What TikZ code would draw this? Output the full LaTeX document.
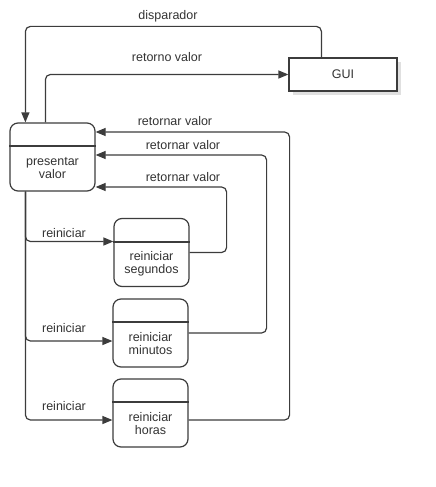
\documentclass[tikz,border=0pt]{standalone}
\usepackage{fontspec}
\setmainfont{Liberation Sans}
\usepackage{xcolor}
\usepackage{tikz}
\usetikzlibrary{arrows.meta}
\usetikzlibrary{calc,shadows}

\definecolor{linegray}{HTML}{3C3C3C}
\definecolor{textgray}{HTML}{333333}

\begin{document}
\begin{tikzpicture}[x=1pt, y=-1pt,
  font=\fontsize{12.5}{13}\selectfont,
  procbox/.style={draw=linegray, line width=1.2pt, rounded corners=8pt, fill=white, minimum width=75pt, minimum height=68pt},
  guibox/.style={draw=linegray, line width=1.2pt, fill=white, minimum width=108pt, minimum height=33pt,
    drop shadow={shadow xshift=4pt, shadow yshift=-4pt, fill=black!12, opacity=1}},
  divline/.style={draw=linegray, line width=1.2pt},
  flow/.style={draw=linegray, line width=1.2pt, rounded corners=5pt, -{Triangle[length=10pt,width=8pt]}},
  lbl/.style={text=textgray, inner sep=0pt}]

\useasboundingbox (0,0) rectangle (436,487);

\path
(343,74.5) node[guibox, text=textgray] (gui) {GUI}
(52.5,157) node[procbox, minimum width=85pt] (pres) {}
(151.5,252.5) node[procbox] (seg) {}
(150.5,333) node[procbox] (min) {}
(150.5,413) node[procbox] (hor) {};

% dividers and texts of the boxes
\draw[divline] (pres.west |- 0,146) -- (pres.east |- 0,146);
\draw[divline] (seg.west |- 0,242) -- (seg.east |- 0,242);
\draw[divline] (min.west |- 0,322) -- (min.east |- 0,322);
\draw[divline] (hor.west |- 0,402) -- (hor.east |- 0,402);

\path
(52.5,168) node[lbl, align=center] (presT) {presentar\\valor}
(151.5,264) node[lbl, align=center] (segT) {reiniciar\\segundos}
(150.5,344) node[lbl, align=center] (minT) {reiniciar\\minutos}
(150.5,424) node[lbl, align=center] (horT) {reiniciar\\horas};

\draw[flow] ([xshift=33pt]gui.north west) -- ++(0,-31) -| ([xshift=16pt]pres.north west);
\draw[flow] ([xshift=36pt]pres.north west) |- (gui.west);

\draw[flow] ([yshift=-7pt]hor.east) -- ++(101,0) |- ([yshift=25pt]pres.east);
\draw[flow] (min.east) -- ++(78,0) |- ([yshift=2pt]pres.east);
\draw[flow] (seg.east) -- ++(37,0) |- ([yshift=-30pt]pres.east);

\draw[flow] ([xshift=16pt]pres.south west) |- ([yshift=11pt]seg.west);
\draw[flow] ([xshift=16pt]pres.south west) |- ([yshift=-8pt]min.west);
\draw[flow] ([xshift=16pt]pres.south west) |- ([yshift=-7pt]hor.west);

\path
(168,16) node[lbl] (dispL) {disparador}
(167,57) node[lbl] (retL) {retorno valor}
(175,121) node[lbl] (retHL) {retornar valor}
(183,145) node[lbl] (retML) {retornar valor}
(183,177) node[lbl] (retSL) {retornar valor}
(64,233) node[lbl] (reiSL) {reiniciar}
(64,328) node[lbl] (reiML) {reiniciar}
(64,406) node[lbl] (reiHL) {reiniciar};

\end{tikzpicture}
\end{document}
